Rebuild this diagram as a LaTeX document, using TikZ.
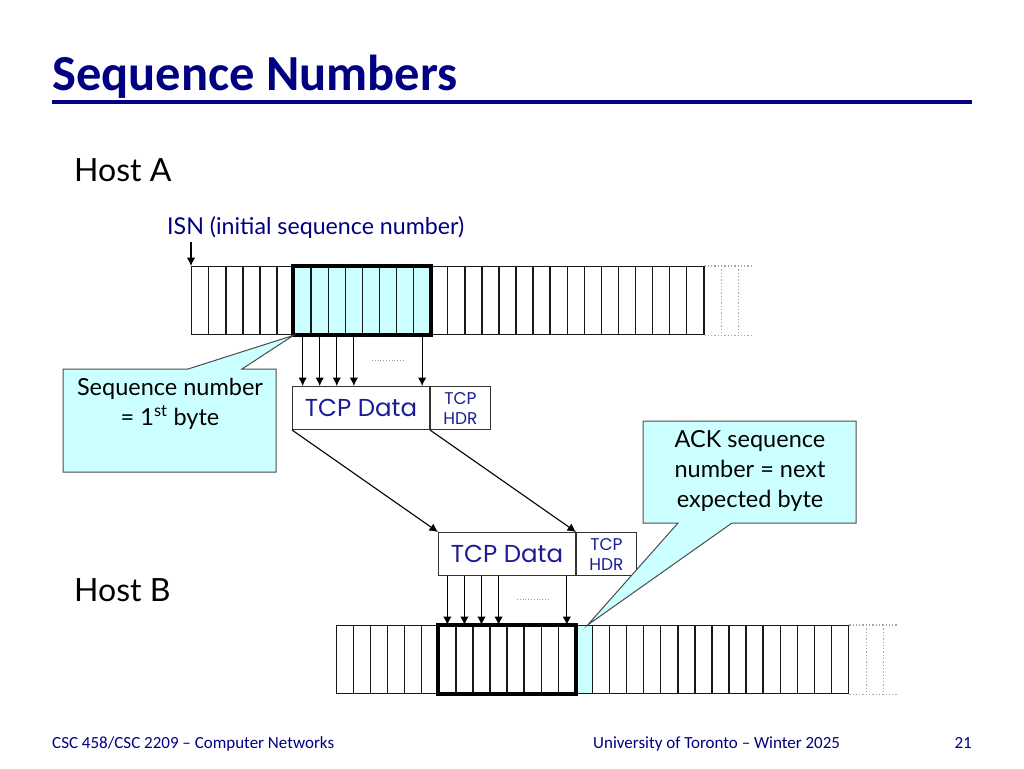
\documentclass[tikz,border=0pt]{standalone}
\usepackage{fontspec}
\setmainfont{Carlito}
\newfontfamily\handfont{Lato}
\newfontfamily\datafont{Poppins}
\usepackage{xcolor}
\usetikzlibrary{calc}
\usetikzlibrary{positioning}
\usetikzlibrary{arrows.meta}
\usetikzlibrary{backgrounds}
\definecolor{slidenavy}{RGB}{0,0,128}
\definecolor{datablue}{RGB}{28,28,150}
\definecolor{notecyan}{RGB}{204,255,255}
\begin{document}
\begin{tikzpicture}[x=1pt,y=-1pt,
      cell style/.style={draw=black!90,line width=1.4pt,minimum width=17.07pt,
        minimum height=68pt,inner sep=0pt,anchor=north west},
      data style/.style={draw=black!80,line width=1pt,minimum width=137pt,
        minimum height=43pt,inner sep=0pt,text=datablue,
        font=\datafont\fontsize{24.5}{28}\selectfont},
      hdr style/.style={draw=black!80,line width=1pt,minimum width=60pt,
        minimum height=43pt,inner sep=0pt,text=datablue,align=center,
        font=\datafont\fontsize{17}{20}\selectfont},
      note style/.style={draw=black!70,line width=1pt,fill=notecyan},
      note text/.style={align=center,inner sep=0pt,
        font=\handfont\fontsize{23.5}{30}\selectfont},
      host style/.style={inner sep=0pt,font=\handfont\fontsize{32}{38}\selectfont},
      arrow style/.style={-{Latex[length=8.5pt,width=8.5pt]},line width=1.1pt},
      tail style/.style={dotted,draw=black!35,line width=1.3pt},
      gap style/.style={dotted,draw=black!40,line width=0.8pt},
      foot style/.style={inner sep=0pt,text=slidenavy,font=\fontsize{17}{20}\selectfont}
      ]
      \useasboundingbox (0,0) rectangle (1024,768);
      \node[anchor=base west,inner sep=0pt,text=slidenavy,
        font=\bfseries\fontsize{50.5}{56}\selectfont] (title) at (52,90) {Sequence Numbers};
      \draw[slidenavy,line width=3.3pt] (52,102) -- (972,102);

      \node[host style,anchor=base west] (hosta) at (74,181) {Host A};
      \node[host style,anchor=base west] (hostb) at (74,601) {Host B};

      \foreach \i in {0,...,29}
        \node[cell style] (a\i) at ({191+17.07*\i},266) {};
      \foreach \i in {0,...,29}
        \node[cell style] (b\i) at ({335.7+17.07*\i},625) {};
      \begin{scope}[on background layer]
        \fill[notecyan] (a6.north west) rectangle (a13.south east);
        \fill[notecyan] (b14.north west) rectangle (b14.south east);
      \end{scope}
      \draw[line width=4pt] (a6.north west) rectangle (a13.south east);
      \draw[line width=4pt] (b6.north west) rectangle (b13.south east);
      \draw[tail style] (a29.north east) -- ++(49,0) (a29.south east) -- ++(49,0)
        ($(a29.north east)+(17.07,0)$) -- ++(0,68)
        ($(a29.north east)+(34.14,0)$) -- ++(0,68);
      \draw[tail style] (b29.north east) -- ++(49,0) (b29.south east) -- ++(49,0)
        ($(b29.north east)+(17.07,0)$) -- ++(0,68)
        ($(b29.north east)+(34.14,0)$) -- ++(0,68);

      \node[anchor=base west,inner sep=0pt,text=slidenavy,
        font=\handfont\fontsize{23.2}{28}\selectfont] (isn) at (167,234)
        {ISN (initial sequence number)};
      \coordinate (isnfoot) at (191,242);
      \draw[arrow style] (isnfoot) -- (a0.north west);

      \node[data style,anchor=north west] (data1) at (292,386) {TCP Data};
      \node[hdr style,right=0pt of data1] (hdr1) {TCP\\HDR};
      \node[data style,anchor=north west] (data2) at (438,532) {TCP Data};
      \node[hdr style,right=0pt of data2] (hdr2) {TCP\\HDR};

      \foreach \i in {6,7,8,9,13}
        \draw[arrow style] (a\i.south) -- (a\i.south |- data1.north);
      \foreach \i in {6,7,8,9,13}
        \draw[arrow style] (b\i.north |- data2.south) -- (b\i.north);
      \draw[gap style] (372,360) -- (403,360);
      \draw[gap style] (517,599) -- (550,599);

      \draw[arrow style] (data1.south west) -- (data2.north west);
      \draw[arrow style] (data1.south east) -- (data2.north east);

      \draw[note style] (63,369) -- (188,369) -- (a6.south west) -- (242,369)
        -- (276,369) -- (276,472) -- (63,472) -- cycle;
      \node[note text,anchor=north] (seqnote) at (170,378)
        {Sequence number\\= 1\textsuperscript{st} byte};

      \coordinate (acktip) at ($(b14.north west)!0.7!(b14.north east)$);
      \draw[note style] (643,421) -- (856,421) -- (856,523) -- (732,523)
        -- (acktip) -- (678,523) -- (643,523) -- cycle;
      \node[note text,anchor=north] (acknote) at (750,430)
        {ACK sequence\\number = next\\expected byte};

      \node[foot style,anchor=base west] (course) at (52,748)
        {CSC 458/CSC 2209 -- Computer Networks};
      \node[foot style,anchor=base west] (school) at (593,748)
        {University of Toronto -- Winter 2025};
      \node[foot style,anchor=base east] (page) at (972,748) {21};
    \end{tikzpicture}
\end{document}
